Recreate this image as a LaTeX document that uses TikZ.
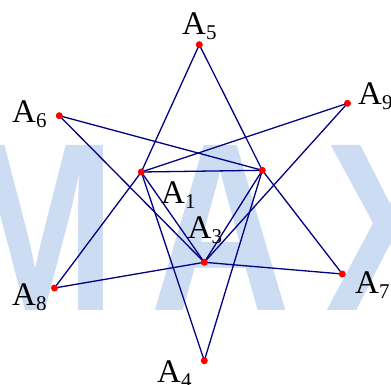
\documentclass[tikz,border=0pt]{standalone}
\usepackage{fontspec}
\setmainfont{Liberation Serif}
\newfontfamily\wmfont{Liberation Sans}
\definecolor{navyline}{RGB}{0,0,128}
\definecolor{wmblue}{RGB}{204,220,243}
\newcommand{\albl}[1]{A\raisebox{-5pt}{\fontsize{21}{21}\selectfont #1}}
\tikzset{
  ln/.style={draw=navyline, line width=1.3pt},
  dot/.style={circle, fill=red, inner sep=0pt, minimum size=7pt},
  lbl/.style={anchor=base west, inner sep=0pt, font=\fontsize{33}{33}\selectfont},
  wm/.style={inner sep=0pt, text=wmblue, font=\wmfont\bfseries\fontsize{240}{240}\selectfont}
}
\begin{document}
\begin{tikzpicture}[x=1pt,y=-1pt]
\useasboundingbox (0,0) rectangle (391,385);
\begin{scope}
\clip (0,0) rectangle (391,385);
\node[wm, anchor=base east] (wmM) at (117,310) {\scalebox{0.81}[1]{M}};
\node[wm, anchor=base west] (wmA) at (150,310) {\scalebox{0.81}[1]{A}};
\node[wm, anchor=base west] (wmX) at (325,310) {\scalebox{0.81}[1]{X}};
\end{scope}
% points
\coordinate (a1) at (141.3,172);
\coordinate (a2) at (262.3,170.3);
\coordinate (a3) at (204.3,262.3);
\coordinate (a4) at (204.3,360.7);
\coordinate (a5) at (199.3,44.7);
\coordinate (a6) at (59.3,115.7);
\coordinate (a7) at (342.3,274);
\coordinate (a8) at (54.5,288);
\coordinate (a9) at (347.5,103.3);
% connectors
\draw[ln] (a1) -- (a2) -- (a3) -- cycle;
\draw[ln] (a1) -- (a5) -- (a2);
\draw[ln] (a1) -- (a4) -- (a2);
\draw[ln] (a2) -- (a6) -- (a3);
\draw[ln] (a2) -- (a7) -- (a3);
\draw[ln] (a1) -- (a8) -- (a3);
\draw[ln] (a1) -- (a9) -- (a3);
% dots
\foreach \p in {a1,a2,a3,a4,a5,a6,a7,a8,a9}
  \node[dot] (d\p) at (\p) {};
% labels
\node[lbl] (l5) at (182,35) {\albl{5}};
\node[lbl] (l6) at (12,123) {\albl{6}};
\node[lbl] (l9) at (358,105) {\albl{9}};
\node[lbl] (l8) at (12,305) {\albl{8}};
\node[lbl] (l7) at (355,293) {\albl{7}};
\node[lbl] (l4) at (157,382) {\albl{4}};
\node[lbl] (l1) at (161,204) {\albl{1}};
\node[lbl] (l3) at (187.5,238) {\albl{3}};
\end{tikzpicture}
\end{document}
